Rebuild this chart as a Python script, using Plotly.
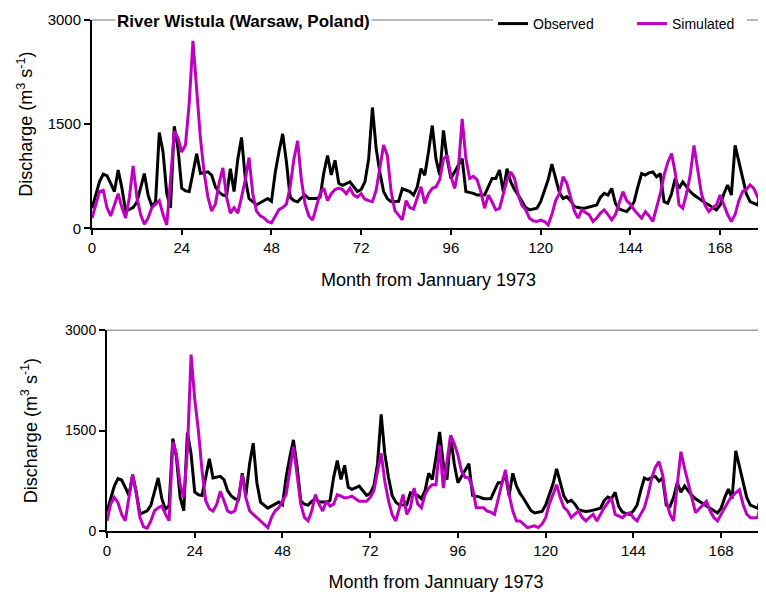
import plotly.graph_objects as go

months = list(range(180))

observed = [290,480,670,780,760,650,530,840,580,250,
 270,300,380,600,790,480,320,380,1380,1100,
 500,300,1470,1150,580,540,530,800,1076,790,
 800,814,767,600,520,480,470,860,530,1000,
 1310,720,430,380,340,370,400,430,390,800,
 1100,1360,960,450,400,385,440,480,430,430,
 430,450,800,1050,770,980,650,620,640,670,
 600,530,560,670,1000,1740,1150,800,530,430,
 385,385,390,570,550,530,480,600,860,767,
 1100,1480,1000,767,1410,1000,720,814,900,1005,
 530,520,505,480,480,480,600,720,720,840,
 530,860,670,560,480,385,300,267,280,290,
 385,560,700,925,720,520,430,457,400,315,
 300,290,295,310,320,338,450,505,480,576,
 362,280,260,243,300,385,600,790,767,800,
 814,743,790,385,362,500,720,576,670,600,
 530,480,440,410,370,338,300,267,338,500,
 625,480,1195,960,700,500,385,360,338,500]

simulated_top = [150,350,530,550,300,180,350,500,300,150,
 450,900,450,200,60,150,300,350,400,200,
 50,700,1400,1300,1100,1200,1800,2700,2000,1300,
 800,450,250,350,650,870,450,220,300,220,
 450,700,1020,500,250,180,150,100,80,180,
 270,300,350,600,1000,1260,700,350,180,120,
 300,500,580,400,500,560,580,560,500,580,
 480,450,500,420,400,385,550,900,1200,1050,
 530,260,200,124,400,300,280,430,600,360,
 500,576,600,700,1000,1050,750,576,860,1576,
 1005,720,750,700,530,290,480,380,267,290,
 480,700,814,720,480,330,267,148,110,100,
 120,100,52,200,400,500,743,650,450,250,
 148,267,230,195,100,150,220,267,200,124,
 200,350,530,400,350,267,200,148,243,180,
 100,300,500,767,950,1076,800,340,290,500,
 767,1195,860,500,330,243,300,338,480,338,
 200,100,200,400,530,560,625,576,450,338]

simulated_bottom = [148,400,500,420,250,150,500,837,560,200,
 60,40,148,300,345,370,250,150,1330,1150,
 700,500,1200,2635,1970,1500,900,450,330,296,
 394,591,450,296,271,300,500,837,493,300,
 246,197,160,100,49,200,300,345,450,542,
 900,1256,837,400,200,148,296,542,400,296,
 443,370,400,542,520,493,500,517,480,443,
 443,443,500,600,887,1158,739,450,246,148,
 345,542,246,345,640,400,345,542,640,690,
 690,1281,640,1034,1429,1300,1133,887,800,788,
 640,345,345,345,296,280,246,493,700,911,
 542,296,148,148,99,49,60,74,49,100,
 197,400,542,690,493,350,296,197,250,296,
 200,148,200,246,148,250,345,420,493,246,
 220,197,250,271,197,148,250,345,542,788,
 950,1034,837,443,250,148,690,1182,936,700,
 493,271,330,394,443,296,200,148,246,350,
 443,520,567,616,394,250,197,197,197,443]

x_ticks = [0, 24, 48, 72, 96, 120, 144, 168]
y_ticks = [0, 1500, 3000]

BLACK = "#000000"
MAGENTA = "#C000C0"
GRAY = "#a0a0a0"
FONT = "Liberation Sans, Arial, sans-serif"
# the page body adds an 8 px margin, so the figure is drawn 8 px smaller
W, H = 758, 592

fig = go.Figure()
fig.add_trace(go.Scatter(x=months, y=observed, mode="lines", name="Observed",
                         line=dict(color=BLACK, width=3), xaxis="x", yaxis="y",
                         legend="legend"))
fig.add_trace(go.Scatter(x=months, y=simulated_top, mode="lines", name="Simulated",
                         line=dict(color=MAGENTA, width=3), xaxis="x", yaxis="y",
                         legend="legend2"))
fig.add_trace(go.Scatter(x=months, y=observed, mode="lines", name="Observed",
                         line=dict(color=BLACK, width=3), xaxis="x2", yaxis="y2",
                         showlegend=False))
fig.add_trace(go.Scatter(x=months, y=simulated_bottom, mode="lines", name="Simulated",
                         line=dict(color=MAGENTA, width=3), xaxis="x2", yaxis="y2",
                         showlegend=False))

def xax(domain, anchor, standoff):
    return dict(domain=domain, anchor=anchor, range=[0, 180], tickvals=x_ticks,
                ticks="outside", ticklen=5, tickwidth=1.5, tickcolor=BLACK,
                showline=True, linecolor=BLACK, linewidth=2, showgrid=False,
                zeroline=False, automargin=False, tickfont=dict(size=15, color=BLACK),
                title=dict(text="Month from Jannuary 1973", font=dict(size=18, color=BLACK),
                           standoff=standoff))

def yax(domain, anchor, standoff, tsize):
    return dict(domain=domain, anchor=anchor, range=[0, 3000], tickvals=y_ticks,
                ticks="outside", ticklen=6, tickwidth=1.5, tickcolor=BLACK,
                showline=True, linecolor=BLACK, linewidth=2, showgrid=False,
                zeroline=False, automargin=False, tickfont=dict(size=tsize, color=BLACK),
                title=dict(text="Discharge (m<sup>3</sup> s<sup>-1</sup>)",
                           font=dict(size=18, color=BLACK), standoff=standoff))

def leg(xpx, width):
    return dict(orientation="h", x=xpx / W, xanchor="left", y=1 - 9 / H,
                yanchor="middle", bgcolor="white", borderwidth=0,
                font=dict(size=14, color=BLACK), entrywidth=width,
                entrywidthmode="pixels")

fig.update_layout(
    width=W, height=H, autosize=False,
    margin=dict(l=0, r=0, t=0, b=0),
    paper_bgcolor="white", plot_bgcolor="white",
    font=dict(family=FONT, color=BLACK),
    xaxis=xax([84 / W, 757 / W], "y", 18),
    yaxis=yax([1 - 216 / H, 1 - 5 / H], "x", 10, 15),
    xaxis2=xax([99 / W, 757 / W], "y2", 18),
    yaxis2=yax([1 - 522 / H, 1 - 319 / H], "x2", 23, 14),
    legend=leg(485, 100),
    legend2=leg(624, 70),
    shapes=[
        dict(type="line", xref="x domain", yref="y domain", x0=0, x1=1, y0=1, y1=1,
             line=dict(color=GRAY, width=1.5)),
        dict(type="line", xref="x domain", yref="y domain", x0=1, x1=1, y0=0, y1=1,
             line=dict(color=GRAY, width=1.5)),
        dict(type="line", xref="x2 domain", yref="y2 domain", x0=0, x1=1, y0=1, y1=1,
             line=dict(color=GRAY, width=1.5)),
        dict(type="line", xref="x2 domain", yref="y2 domain", x0=1, x1=1, y0=0, y1=1,
             line=dict(color=GRAY, width=1.5)),
    ],
    annotations=[
        dict(text="<b>River Wistula (Warsaw, Poland)</b>", xref="paper", yref="paper",
             x=235 / W, y=1 - 7 / H, xanchor="center", yanchor="middle",
             showarrow=False, bgcolor="white", font=dict(size=17, color=BLACK)),
    ],
)

fig.write_html("out.html")
